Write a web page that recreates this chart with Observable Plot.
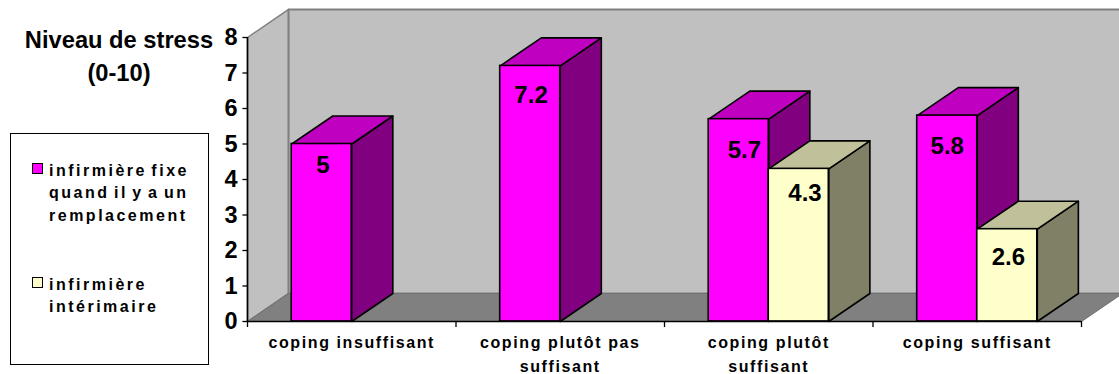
<!DOCTYPE html>
<html><head><meta charset="utf-8">
<script src="https://cdn.jsdelivr.net/npm/d3@7"></script>
<script src="https://cdn.jsdelivr.net/npm/@observablehq/plot@0.6"></script>
<style>
html,body{margin:0;padding:0;background:#fff;overflow:hidden}
#wrap{position:relative;width:1119px;height:374px;font-family:"Liberation Sans",Arial,sans-serif;font-weight:bold;color:#000}
#wrap svg{position:absolute;left:0;top:0;overflow:hidden}
#ytitle{position:absolute;left:0;top:24px;width:238px;text-align:center;font-size:23.7px;line-height:33px}
#legend{position:absolute;left:10px;top:133px;width:197px;height:230px;border:1.5px solid #000;background:#fff}
.key{position:absolute;width:9px;height:9px;border:1.5px solid #000;left:21px}
.ltxt{position:absolute;left:38px;font-size:16px;line-height:22.4px;letter-spacing:2.5px;word-spacing:-2.5px;white-space:nowrap}
</style></head>
<body><div id="wrap">
<div id="ytitle">Niveau de stress<br>(0-10)</div>
<div id="legend">
 <div class="key" style="top:29px;background:#ff00ff"></div>
 <div class="ltxt" style="top:26px">infirmière fixe<br>quand il y a un<br>remplacement</div>
 <div class="key" style="top:143px;background:#ffffcc"></div>
 <div class="ltxt" style="top:140px">infirmière<br>intérimaire</div>
</div>
</div>
<script>
const categories = ["coping insuffisant", "coping plutôt pas\nsuffisant", "coping plutôt\nsuffisant", "coping suffisant"];
const fixe = [5, 7.2, 5.7, 5.8];
const interimaire = [null, null, 4.3, 2.6];
const yTicks = [0, 1, 2, 3, 4, 5, 6, 7, 8];
const xTicks = [0, 1, 2, 3, 4];

// label nudges in data units: [dx, dy] relative to the bar's centre and top
const fixeLabelShift = [[0.006, 0.6], [0.004, 0.84], [0.027, 0.87], [0, 0.87]];
const interLabelShift = [null, null, [0.03, 0.7], [0.005, 0.79]];

// oblique depth of the 3D box, in data units
const DX = 0.197, DY = 0.789;
const GAP = 0.212, BAR = 0.288;
const colors = {
  fixe: {front: "#ff00ff", top: "#c000c0", side: "#800080"},
  inter: {front: "#ffffcc", top: "#c0c09a", side: "#808066"}
};

const poly = (pts, fill, stroke, strokeWidth) =>
  Plot.line([...pts, pts[0]], {x: d => d[0], y: d => d[1], fill, stroke, strokeWidth, strokeLinejoin: "round"});

function box(x0, v, c) {
  const x1 = x0 + BAR;
  return [
    poly([[x1, 0], [x1 + DX, DY], [x1 + DX, v + DY], [x1, v]], c.side, "#000", 1.6),
    poly([[x0, v], [x1, v], [x1 + DX, v + DY], [x0 + DX, v + DY]], c.top, "#000", 1.6),
    Plot.rect([0], {x1: x0, x2: x1, y1: 0, y2: v, fill: c.front, stroke: "#000", strokeWidth: 1.6})
  ];
}

const bars = categories.flatMap((_, i) => [
  ...box(i + GAP, fixe[i], colors.fixe),
  ...(interimaire[i] == null ? [] : box(i + GAP + BAR, interimaire[i], colors.inter))
]);

const labels = [
  ...fixe.map((v, i) => ({x: i + GAP + BAR / 2 + fixeLabelShift[i][0], y: v - fixeLabelShift[i][1], t: String(v)})),
  ...interimaire.flatMap((v, i) => v == null ? [] : [{x: i + GAP + BAR * 1.5 + interLabelShift[i][0], y: v - interLabelShift[i][1], t: String(v)}])
];

const chart = Plot.plot({
  width: 1119, height: 374,
  marginLeft: 247, marginRight: 38, marginTop: 37, marginBottom: 53,
  x: {domain: [0, 4], axis: null},
  y: {domain: [0, 8], axis: null},
  style: {fontFamily: '"Liberation Sans", Arial, sans-serif', background: "#fff"},
  marks: [
    // walls and floor
    poly([[0, 0], [DX, DY], [DX, 8 + DY], [0, 8]], "#c0c0c0", "#808080", 1.5),
    poly([[DX, DY], [4 + DX, DY], [4 + DX, 8 + DY], [DX, 8 + DY]], "#c0c0c0", "#808080", 2),
    poly([[0, 0], [4, 0], [4 + DX, DY], [DX, DY]], "#808080", "#707070", 1),
    ...bars,
    Plot.ruleX([0], {y1: 0, y2: 8, stroke: "#000", strokeWidth: 1.6}),
    Plot.ruleY([0], {x1: 0, x2: 4, stroke: "#000", strokeWidth: 1.6}),
    // tick marks
    Plot.ruleY(yTicks, {y: d => d, x1: -0.022, x2: 0, stroke: "#000", strokeWidth: 1.3}),
    Plot.ruleX(xTicks, {x: d => d, y1: -0.17, y2: 0, stroke: "#000", strokeWidth: 1.3}),
    // tick labels
    Plot.text(yTicks, {x: 0, y: d => d, text: d => String(d), textAnchor: "end", dx: -10,
      fontSize: 23.5, fontWeight: "bold", fill: "#000"}),
    Plot.text(categories, {x: (d, i) => i + 0.5, y: 0, dy: 9, text: d => d, lineAnchor: "top", lineHeight: 1.5,
      fontSize: 16, fontWeight: "bold", fill: "#000"}),
    Plot.text(labels, {x: "x", y: "y", text: "t", fontSize: 24, fontWeight: "bold", fill: "#000"})
  ]
});
document.getElementById("wrap").prepend(chart);
chart.querySelectorAll("text").forEach(t => {
  if (t.textContent.startsWith("coping")) t.style.letterSpacing = "1.6px";
});
</script>
</body></html>
